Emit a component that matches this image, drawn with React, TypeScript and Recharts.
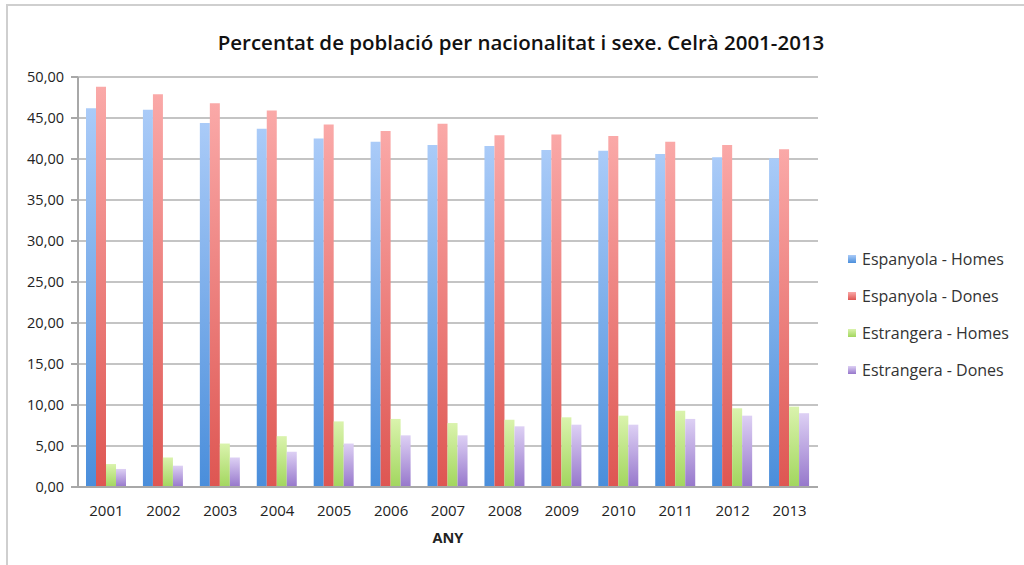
import { BarChart, Bar, XAxis, YAxis, CartesianGrid } from "recharts"

const years = ["2001", "2002", "2003", "2004", "2005", "2006", "2007", "2008", "2009", "2010", "2011", "2012", "2013"]
const espHomes = [46.2, 46.0, 44.4, 43.7, 42.5, 42.1, 41.7, 41.6, 41.1, 41.0, 40.6, 40.2, 40.1]
const espDones = [48.8, 47.9, 46.8, 45.9, 44.2, 43.4, 44.3, 42.9, 43.0, 42.8, 42.1, 41.7, 41.2]
const estHomes = [2.8, 3.6, 5.3, 6.2, 8.0, 8.3, 7.8, 8.2, 8.5, 8.7, 9.3, 9.6, 9.8]
const estDones = [2.2, 2.6, 3.6, 4.3, 5.3, 6.3, 6.3, 7.4, 7.6, 7.6, 8.3, 8.7, 9.0]
const yTicks = [0, 5, 10, 15, 20, 25, 30, 35, 40, 45, 50]

const seriesKeys = ["espHomes", "espDones", "estHomes", "estDones"]
const seriesNames = ["Espanyola - Homes", "Espanyola - Dones", "Estrangera - Homes", "Estrangera - Dones"]

const data = years.map((y, i) => ({
  year: y,
  espHomes: espHomes[i],
  espDones: espDones[i],
  estHomes: estHomes[i],
  estDones: estDones[i],
}))

// colors: top / bottom of the gradient
const grads = [
  { id: "gBlue", top: "#aacbf8", bottom: "#4a8edb" },
  { id: "gRed", top: "#faa9a8", bottom: "#de5652" },
  { id: "gGreen", top: "#daf3ad", bottom: "#a2d65e" },
  { id: "gPurple", top: "#ddd0f4", bottom: "#9677cb" },
]

const font = "'Open Sans', 'Noto Sans', sans-serif"

export default function App() {
  return (
    <div style={{ position: "absolute", left: 0, top: 0, width: 1024, height: 565, background: "#fff" }}>
      <div style={{ position: "absolute", left: 6, top: 4, right: 0, bottom: 0, borderTop: "2px solid #cfcfcf", borderLeft: "2px solid #cfcfcf" }} />
      <div style={{ position: "absolute", left: 0, top: 28, width: 1042, textAlign: "center", fontFamily: font, fontSize: 20.5, fontWeight: 600, color: "#111", whiteSpace: "nowrap" }}>
        Percentat de població per nacionalitat i sexe. Celrà 2001-2013
      </div>
      {/* llegenda */}
      <ul style={{ position: "absolute", left: 848, top: 240, listStyle: "none", margin: 0, padding: 0 }}>
        {seriesNames.map((name, i) => (
          <li key={name} style={{ display: "flex", alignItems: "center", height: 37, fontFamily: font, fontSize: 16, color: "#333", whiteSpace: "nowrap" }}>
            <span style={{
              display: "inline-block", width: 8, height: 8, marginRight: 6,
              background: `linear-gradient(${grads[i].top}, ${grads[i].bottom})`,
            }} />
            <span>{name}</span>
          </li>
        ))}
      </ul>
      <div style={{ position: "absolute", left: 0, top: 0 }}>
        <BarChart
          width={1024}
          height={565}
          data={data}
          margin={{ top: 77, right: 206, left: 8, bottom: 18 }}
          barCategoryGap={8}
          barGap={0}
        >
          <defs>
            {grads.map((g) => (
              <linearGradient key={g.id} id={g.id} x1="0" y1="0" x2="0" y2="1">
                <stop offset="0%" stopColor={g.top} />
                <stop offset="100%" stopColor={g.bottom} />
              </linearGradient>
            ))}
          </defs>
          <CartesianGrid vertical={false} stroke="#c4c4c4" strokeWidth={2} />
          <XAxis
            dataKey="year"
            height={60}
            tickLine={false}
            axisLine={{ stroke: "#a8a8a8", strokeWidth: 2 }}
            tick={{ fontSize: 15, fill: "#222", fontFamily: font }}
            tickMargin={12}
            label={{ value: "ANY", position: "insideBottom", offset: 4, style: { fontSize: 14.5, fontWeight: 700, fill: "#222", fontFamily: font } }}
          />
          <YAxis
            width={70}
            domain={[0, 50]}
            ticks={yTicks}
            interval={0}
            tickFormatter={(v: number) => v.toFixed(2).replace(".", ",")}
            axisLine={{ stroke: "#a8a8a8", strokeWidth: 2 }}
            tickLine={{ stroke: "#a8a8a8", strokeWidth: 2 }}
            tickSize={7}
            tickMargin={7}
            tick={{ fontSize: 14.5, fill: "#222", fontFamily: font }}
          />
          {seriesKeys.map((k, i) => (
            <Bar key={k} dataKey={k} name={seriesNames[i]} fill={`url(#${grads[i].id})`} isAnimationActive={false} />
          ))}
        </BarChart>
      </div>
    </div>
  )
}
